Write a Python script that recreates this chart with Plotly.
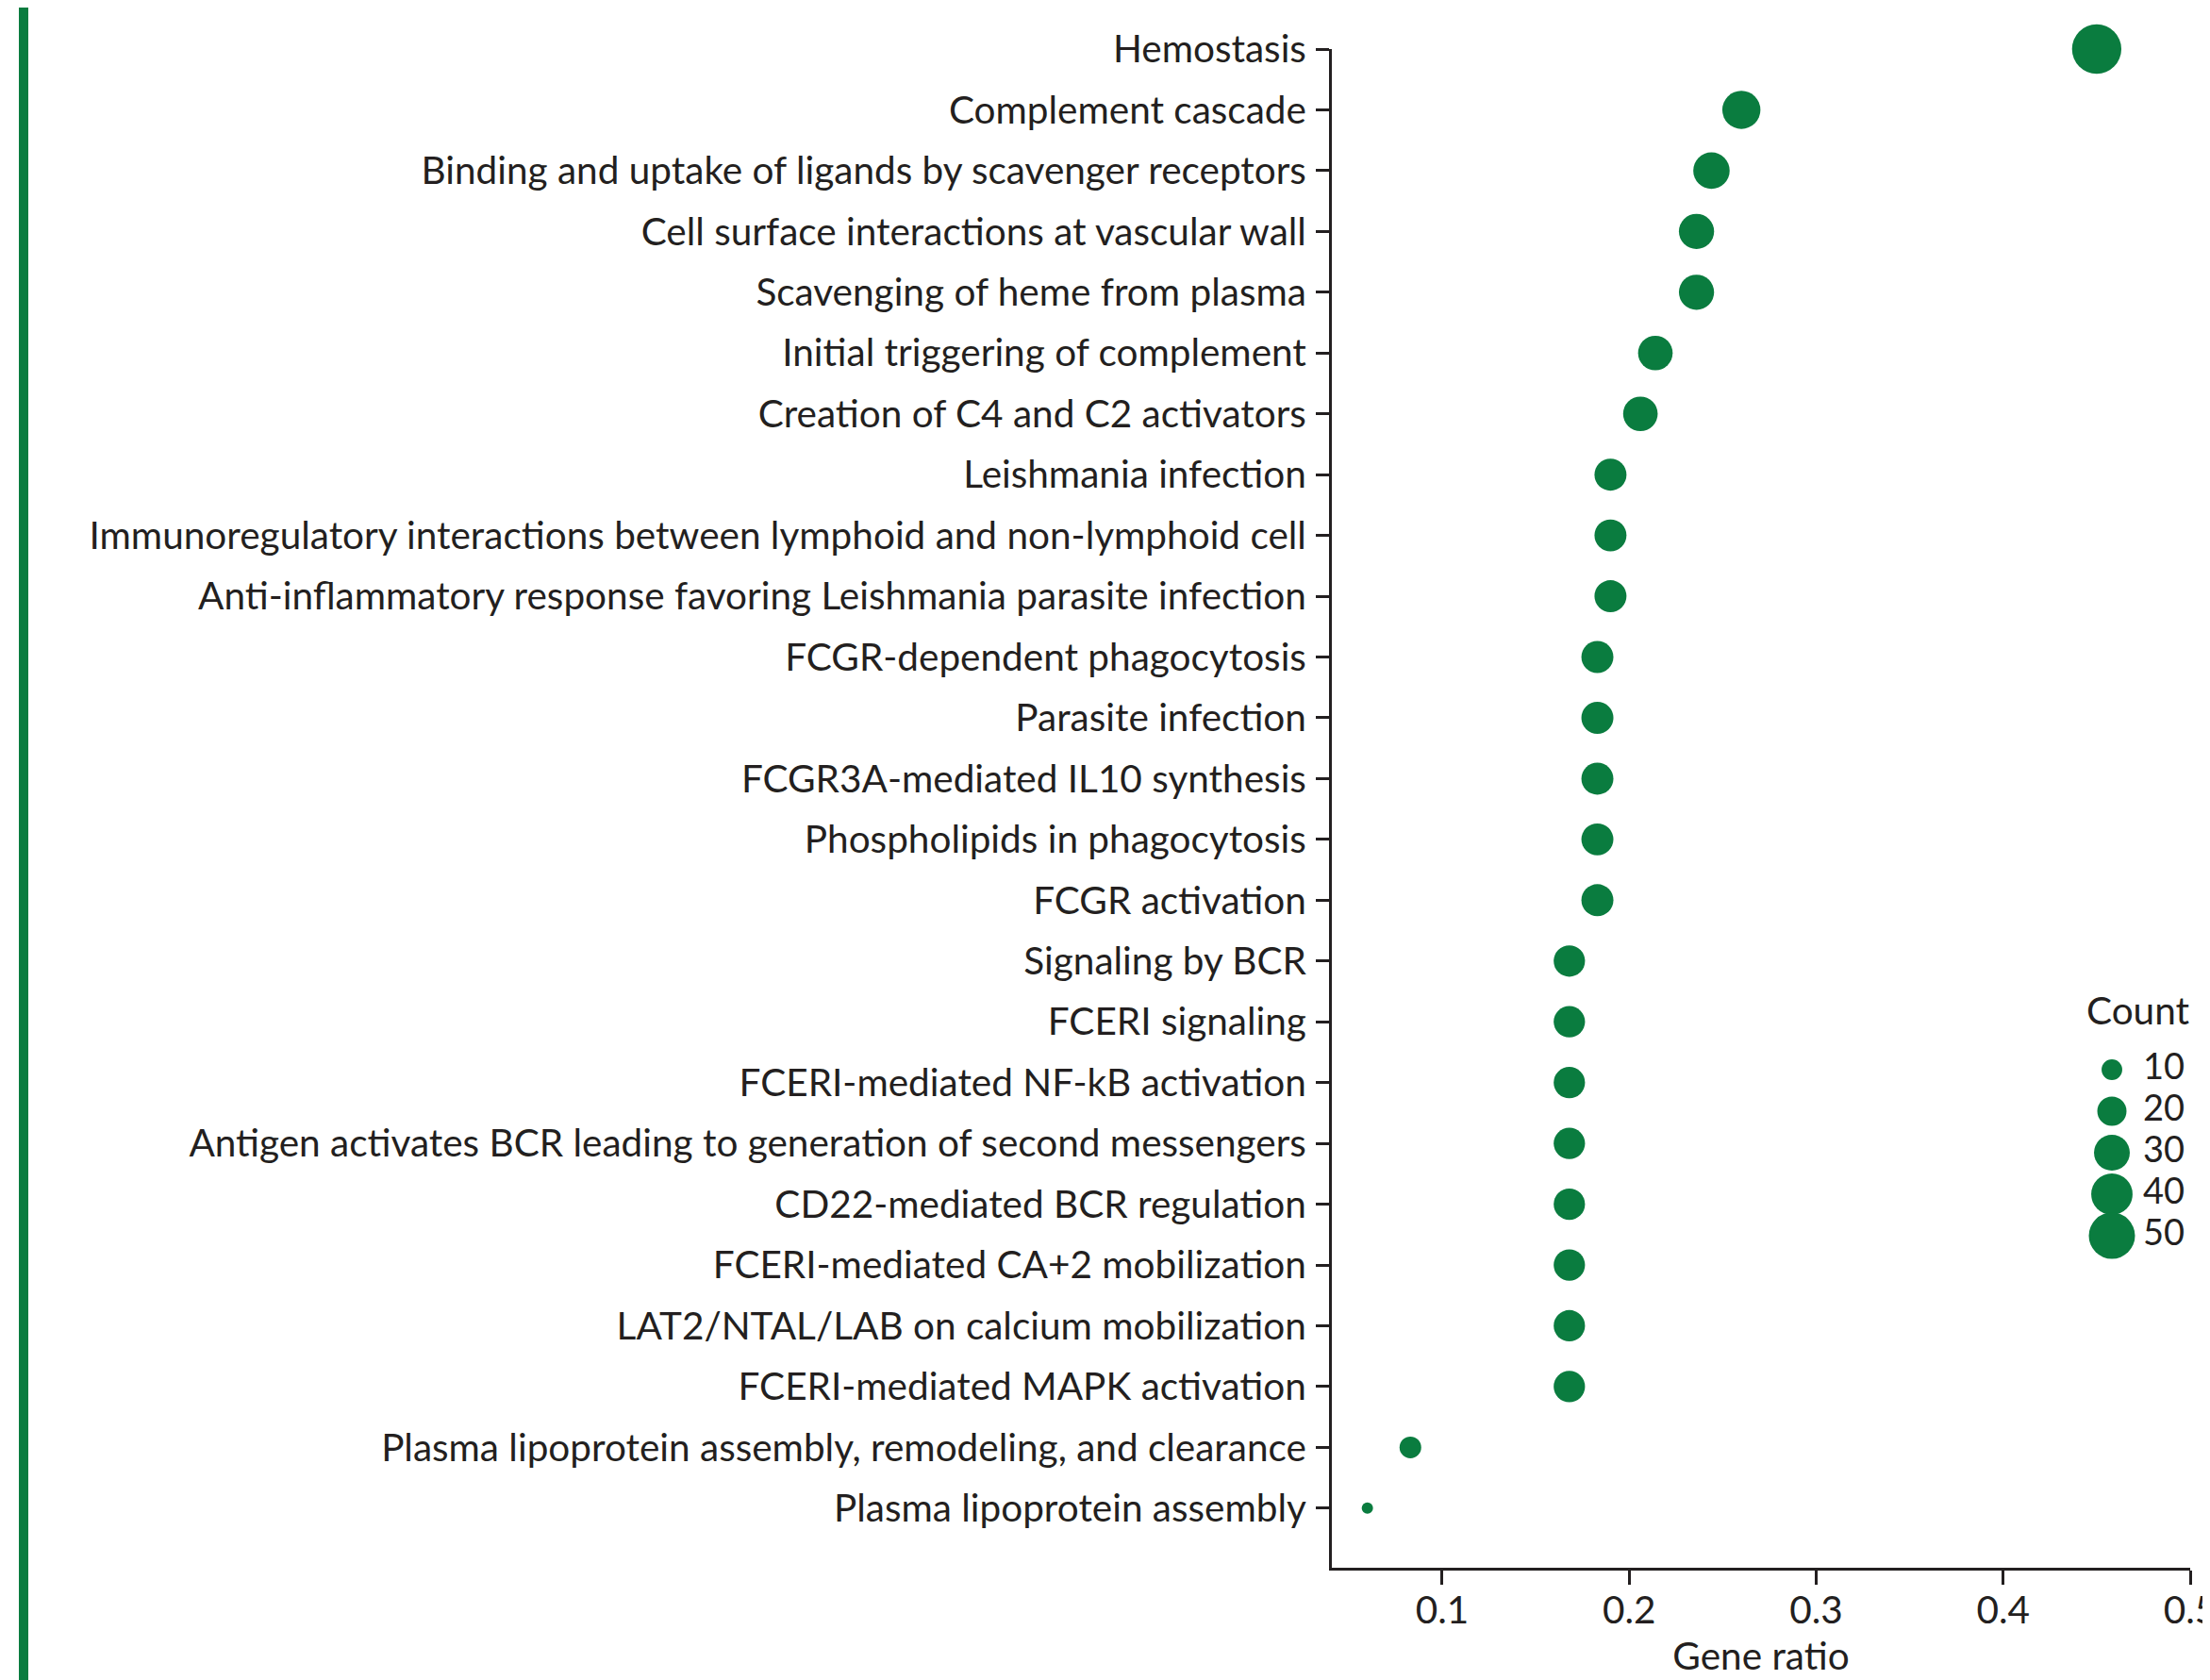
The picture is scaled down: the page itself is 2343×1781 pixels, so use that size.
import plotly.graph_objects as go

pathways = [
    "Hemostasis",
    "Complement cascade",
    "Binding and uptake of ligands by scavenger receptors",
    "Cell surface interactions at vascular wall",
    "Scavenging of heme from plasma",
    "Initial triggering of complement",
    "Creation of C4 and C2 activators",
    "Leishmania infection",
    "Immunoregulatory interactions between lymphoid and non-lymphoid cell",
    "Anti-inflammatory response favoring Leishmania parasite infection",
    "FCGR-dependent phagocytosis",
    "Parasite infection",
    "FCGR3A-mediated IL10 synthesis",
    "Phospholipids in phagocytosis",
    "FCGR activation",
    "Signaling by BCR",
    "FCERI signaling",
    "FCERI-mediated NF-kB activation",
    "Antigen activates BCR leading to generation of second messengers",
    "CD22-mediated BCR regulation",
    "FCERI-mediated CA+2 mobilization",
    "LAT2/NTAL/LAB on calcium mobilization",
    "FCERI-mediated MAPK activation",
    "Plasma lipoprotein assembly, remodeling, and clearance",
    "Plasma lipoprotein assembly",
]
gene_ratio = [0.450, 0.260, 0.244, 0.236, 0.236, 0.214, 0.206,
              0.190, 0.190, 0.190, 0.183, 0.183, 0.183, 0.183, 0.183,
              0.168, 0.168, 0.168, 0.168, 0.168, 0.168, 0.168, 0.168,
              0.083, 0.060]
count = [57, 34, 31, 29, 29, 28, 28,
         24, 24, 24, 24, 24, 24, 24, 24,
         23, 23, 23, 23, 23, 23, 23, 23,
         11, 3]

legend_counts = [10, 20, 30, 40, 50]
legend_labels = ["10", "20", "30", "40", "50"]
x_ticks = [0.1, 0.2, 0.3, 0.4, 0.5]
x_ticklabels = ["0.1", "0.2", "0.3", "0.4", "0.5"]

GREEN = "#0a7c3f"
TXT = "#231f20"
FONT = "Lato"
FS = 40.5
FS_KEY = 38
SIZEREF = 1 / 24.0

OFF = 8  # page body offset
W, H = 2343 - OFF, 1781 - OFF
# target page coordinates -> figure coordinates
PL, PR, PT, PB = 1412, 2322, 52, 1662
L, T = PL - OFF, PT - OFF
R = W - (PR - OFF)
B = H - (PB - OFF)
pw = W - L - R
ph = H - T - B

fig = go.Figure()
fig.add_trace(go.Scatter(
    x=gene_ratio, y=pathways, mode="markers",
    marker=dict(size=count, sizemode="area", sizeref=SIZEREF, color=GREEN,
                opacity=1, line=dict(width=0)),
    cliponaxis=False, showlegend=False, xaxis="x", yaxis="y",
))

# size key
fig.add_trace(go.Scatter(
    x=[0] * len(legend_counts), y=list(range(len(legend_counts))), mode="markers",
    marker=dict(size=legend_counts, sizemode="area", sizeref=SIZEREF, color=GREEN,
                opacity=1, line=dict(width=0)),
    cliponaxis=False, showlegend=False, xaxis="x2", yaxis="y2",
))
fig.add_trace(go.Scatter(
    x=[0.33] * len(legend_counts), y=list(range(len(legend_counts))), mode="text",
    text=legend_labels, textposition="middle right",
    textfont=dict(family=FONT, size=FS_KEY, color=TXT),
    cliponaxis=False, showlegend=False, xaxis="x2", yaxis="y2",
))

n = len(pathways)
bottom_extra = 0.98

leg_top_px = (1134 - 22) - PT
leg_bot_px = (1310 + 22) - PT
y2_domain = [1 - leg_bot_px / ph, 1 - leg_top_px / ph]
x2_left_px = 2222 - PL
x2_domain = [x2_left_px / pw, 1.0]

fig.update_layout(
    width=W, height=H,
    margin=dict(l=L, r=R, t=T, b=B, pad=0, autoexpand=False),
    paper_bgcolor="white", plot_bgcolor="white",
    font=dict(family=FONT, size=FS, color=TXT),
    xaxis=dict(
        range=[0.041, 0.5], tickvals=x_ticks, ticktext=x_ticklabels,
        showgrid=False, zeroline=False, showline=True, linecolor=TXT, linewidth=3,
        ticks="outside", ticklen=15, tickwidth=3, tickcolor=TXT,
        tickfont=dict(family=FONT, size=FS, color=TXT),
        ticklabeloverflow="allow", ticklabelstandoff=-8, automargin=False,
        title=dict(text="Gene ratio", font=dict(family=FONT, size=FS, color=TXT), standoff=0),
    ),
    yaxis=dict(
        type="category", categoryorder="array", categoryarray=pathways,
        range=[n - 1 + bottom_extra, 0],
        showgrid=False, zeroline=False, showline=True, linecolor=TXT, linewidth=3,
        ticks="outside", ticklen=14, tickwidth=3, tickcolor=TXT,
        tickfont=dict(family=FONT, size=FS, color=TXT),
        ticklabelstandoff=2, automargin=False,
    ),
    xaxis2=dict(domain=x2_domain, range=[-0.17, 0.83], visible=False, anchor="y2"),
    yaxis2=dict(domain=y2_domain, range=[len(legend_counts) - 0.5, -0.5], visible=False, anchor="x2"),
    annotations=[dict(
        text="Count", xref="paper", yref="paper",
        x=(2267 - PL) / pw, y=1 - (1070 - PT) / ph, xanchor="center", yanchor="middle",
        showarrow=False, font=dict(family=FONT, size=FS, color=TXT),
    )],
    shapes=[dict(
        type="rect", xref="paper", yref="paper",
        x0=(20 - PL) / pw, x1=(30 - PL) / pw, y0=-0.2, y1=1.2,
        fillcolor=GREEN, line=dict(width=0), layer="above",
    )],
)

fig.write_html("out.html")
